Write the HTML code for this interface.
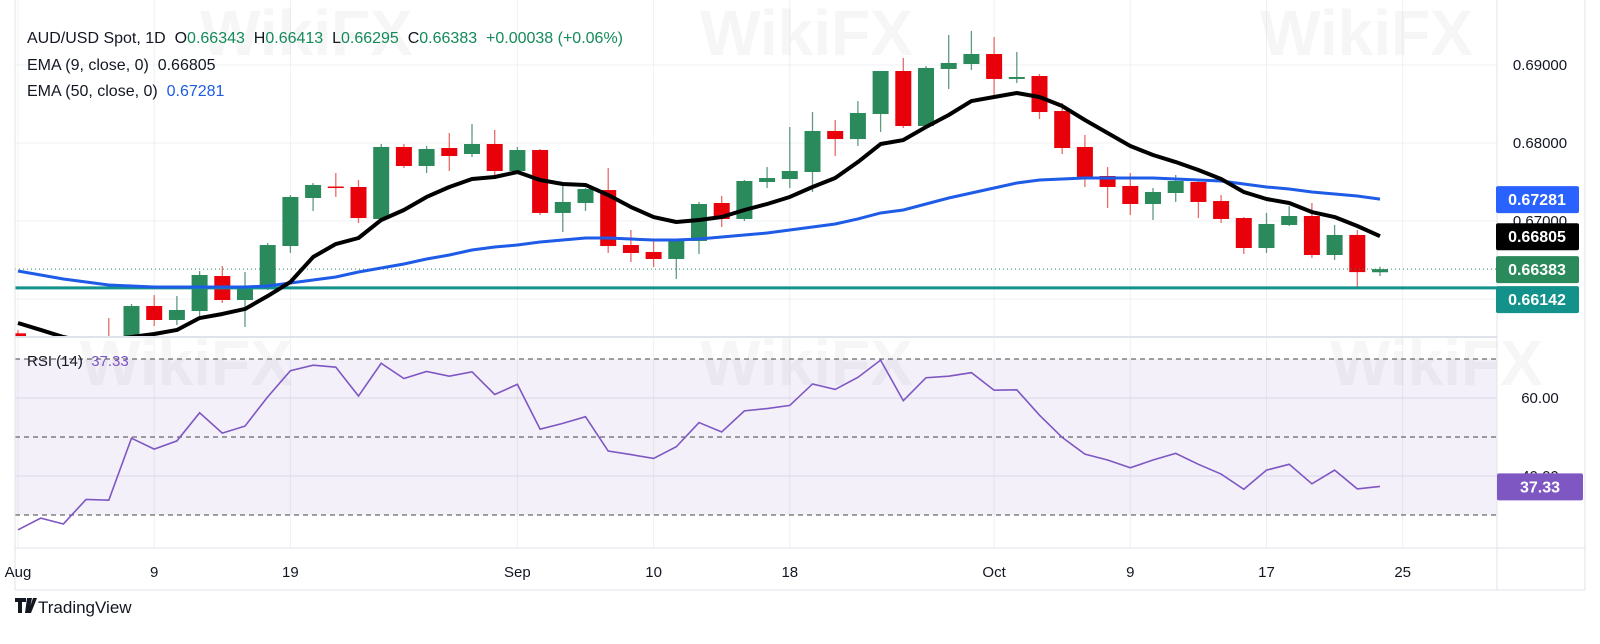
<!DOCTYPE html>
<html><head><meta charset="utf-8">
<style>
html,body{margin:0;padding:0;background:#fff;}
svg{display:block;font-family:"Liberation Sans",sans-serif;}
#legend text{white-space:pre;}
</style></head>
<body>
<svg id="chart" width="1600" height="644" viewBox="0 0 1600 644" xmlns="http://www.w3.org/2000/svg">
  <defs>
    <clipPath id="pclip"><rect x="15" y="0" width="1482" height="337"/></clipPath>
    <clipPath id="rclip"><rect x="15" y="337" width="1482" height="211"/></clipPath>
  </defs>
  <rect x="0" y="0" width="1600" height="644" fill="#fff"/>
  <g id="grid"></g>
  <g id="watermarks" fill="#d8d8d8" opacity="0.22" font-size="64" font-weight="bold">
    <text x="200" y="55">WikiFX</text>
    <text x="700" y="55">WikiFX</text>
    <text x="1260" y="55">WikiFX</text>
    <text x="80" y="385">WikiFX</text>
    <text x="700" y="385">WikiFX</text>
    <text x="1330" y="385">WikiFX</text>
  </g>
  <rect x="15" y="359" width="1482" height="156" fill="#7e57c2" opacity="0.09"/>
  <g id="price" clip-path="url(#pclip)"></g>
  <g id="rsi" clip-path="url(#rclip)"></g>
  <g id="axes"></g>
  <g id="legend" font-size="16" xml:space="preserve">
    <text x="27" y="43"><tspan fill="#131722">AUD/USD Spot, 1D  O</tspan><tspan fill="#138a5a">0.66343</tspan><tspan fill="#131722">  H</tspan><tspan fill="#138a5a">0.66413</tspan><tspan fill="#131722">  L</tspan><tspan fill="#138a5a">0.66295</tspan><tspan fill="#131722">  C</tspan><tspan fill="#138a5a">0.66383  +0.00038 (+0.06%)</tspan></text>
    <text x="27" y="70" fill="#131722">EMA (9, close, 0)  0.66805</text>
    <text x="27" y="96" fill="#131722">EMA (50, close, 0)  <tspan fill="#1e5be6">0.67281</tspan></text>
    <text x="27" y="366" fill="#131722" font-size="15">RSI (14)  <tspan fill="#7e57c2">37.33</tspan></text>
  </g>
  <g>
    <path d="M15 598h11v4h-4v11h-4v-11h-3z M27 598h5l-3 15h-4z M33 598h4l-6 15h-3z" fill="#131722"/>
    <text x="38" y="613" font-size="17" fill="#131722">TradingView</text>
  </g>
</svg>
<script>
const tickLabels=[["Aug",0],["9",6],["19",12],["Sep",22],["10",28],["18",34],["Oct",43],["9",49],["17",55],["25",61]];
const opens=[0.6556,0.6535,0.6490,0.6500,0.6540,0.6520,0.65910,0.65731,0.65846,0.66295,0.65987,0.66128,0.66679,0.67295,0.67442,0.67436,0.67026,0.67949,0.67705,0.67936,0.67859,0.67987,0.67641,0.67910,0.67103,0.67231,0.67397,0.66692,0.66603,0.66513,0.66744,0.67231,0.67026,0.67500,0.67538,0.67628,0.68154,0.68051,0.68372,0.68923,0.68218,0.68949,0.69013,0.69141,0.68821,0.68859,0.68410,0.67949,0.67577,0.67449,0.67218,0.67359,0.67500,0.67256,0.67038,0.66654,0.66949,0.67064,0.66564,0.66821,0.66343];
const highs=[0.6560,0.6540,0.6510,0.6530,0.65756,0.65936,0.66051,0.66038,0.66359,0.66423,0.66346,0.66718,0.67333,0.67487,0.67615,0.67526,0.67987,0.67987,0.67962,0.68128,0.68244,0.68167,0.67949,0.67923,0.67500,0.67423,0.67679,0.66885,0.66756,0.66756,0.67244,0.67321,0.67526,0.67692,0.68205,0.68397,0.68295,0.68538,0.68923,0.69090,0.68987,0.69385,0.69436,0.69359,0.69167,0.68885,0.68513,0.68103,0.67692,0.67615,0.67423,0.67590,0.67513,0.67333,0.67051,0.67103,0.67192,0.67231,0.66949,0.66885,0.66413];
const lows=[0.6520,0.6480,0.6430,0.6480,0.6505,0.6510,0.65654,0.65667,0.65782,0.65949,0.65641,0.66115,0.66590,0.67128,0.67308,0.66974,0.67013,0.67679,0.67615,0.67641,0.67821,0.67538,0.67628,0.67077,0.66859,0.67128,0.66590,0.66474,0.66410,0.66256,0.66577,0.66923,0.67000,0.67423,0.67423,0.67372,0.67833,0.67962,0.68141,0.68192,0.68192,0.68692,0.68936,0.68577,0.68769,0.68308,0.67859,0.67436,0.67167,0.67077,0.67013,0.67244,0.67038,0.66974,0.66577,0.66590,0.66936,0.66526,0.66500,0.66141,0.66295];
const closes=[0.6530,0.6490,0.6500,0.6520,0.6515,0.65910,0.65731,0.65859,0.66308,0.65987,0.66128,0.66692,0.67308,0.67462,0.67429,0.67038,0.67949,0.67705,0.67923,0.67833,0.67987,0.67641,0.67910,0.67103,0.67244,0.67410,0.66679,0.66590,0.66513,0.66744,0.67218,0.67026,0.67513,0.67551,0.67641,0.68154,0.68051,0.68385,0.68923,0.68218,0.68962,0.69026,0.69141,0.68821,0.68846,0.68397,0.67936,0.67564,0.67436,0.67218,0.67372,0.67513,0.67244,0.67026,0.66654,0.66962,0.67064,0.66564,0.66821,0.66345,0.66383];
const ema9=[0.65692,0.65603,0.65513,0.65449,0.65474,0.65513,0.65551,0.65603,0.65756,0.65808,0.65872,0.66038,0.66218,0.66538,0.66705,0.66782,0.67013,0.67141,0.67308,0.67436,0.67538,0.67564,0.67628,0.67526,0.67474,0.67462,0.67333,0.67179,0.67051,0.66987,0.67013,0.67051,0.67141,0.67218,0.67308,0.67436,0.67551,0.67756,0.67987,0.68038,0.68205,0.68359,0.68538,0.68590,0.68641,0.68590,0.68474,0.68295,0.68128,0.67962,0.67846,0.67756,0.67654,0.67538,0.67372,0.67282,0.67231,0.67115,0.67051,0.66936,0.66805];
const ema50=[0.66359,0.66308,0.66256,0.66218,0.66179,0.66167,0.66154,0.66154,0.66154,0.66154,0.66154,0.66167,0.66205,0.66244,0.66282,0.66346,0.66397,0.66449,0.66513,0.66564,0.66628,0.66667,0.66692,0.66731,0.66756,0.66782,0.66782,0.66769,0.66756,0.66756,0.66769,0.66795,0.66821,0.66846,0.66885,0.66923,0.66962,0.67026,0.67103,0.67141,0.67218,0.67295,0.67359,0.67423,0.67487,0.67526,0.67538,0.67551,0.67551,0.67551,0.67551,0.67538,0.67526,0.67513,0.67474,0.67436,0.67410,0.67372,0.67346,0.67321,0.67281];
const rsiVals=[26.2,29.2,27.7,34.0,33.8,49.7,46.9,49.0,56.2,51.0,52.8,60.3,67.0,68.4,67.9,60.5,68.9,65.0,66.8,65.6,66.7,60.9,63.5,52.0,53.5,55.2,46.4,45.5,44.5,47.5,53.7,51.3,56.7,57.3,58.1,63.6,62.2,65.3,69.7,59.3,65.2,65.6,66.5,62.0,62.1,55.6,49.9,45.6,44.1,42.1,44.1,45.8,43.0,40.5,36.6,41.5,43.0,38.0,41.5,36.7,37.33];
const priceTicks=[0.69,0.68,0.67,0.66];
const priceTickLabels=["0.69000","0.68000","0.67000",""];
const rsiTicks=[60,40];
const rsiTickLabels=["60.00","40.00"];
const rsiLevels=[70,50,30];
const supportLevel=0.66142;

const NS="http://www.w3.org/2000/svg";
const xOf=i=>18+i*22.7;
const yP=p=>221-(p-0.67)*7800;
const yR=r=>359+(70-r)*3.9;
function mk(tag,attrs,parent){const e=document.createElementNS(NS,tag);for(const k in attrs)e.setAttribute(k,attrs[k]);parent.appendChild(e);return e;}
const grid=document.getElementById('grid'),price=document.getElementById('price'),rsi=document.getElementById('rsi'),axes=document.getElementById('axes');

tickLabels.forEach(t=>{const l=mk('line',{x1:xOf(t[1]),x2:xOf(t[1]),y1:0,y2:548,stroke:'#eef0f3','stroke-width':1},grid);

});
priceTicks.forEach(p=>{const l=mk('line',{x1:15,x2:1497,y1:yP(p),y2:yP(p),stroke:'#eef0f3'},grid);

});
rsiTicks.forEach(r=>{const l=mk('line',{x1:15,x2:1497,y1:yR(r),y2:yR(r),stroke:'#e6e3ee'},grid);

});

for(let i=0;i<opens.length;i++){
  const up=closes[i]>=opens[i];const col=up?'#2b8a5b':'#e8000b';const x=xOf(i);
  const g=mk('g',{},price);
  
  
  mk('line',{x1:x,x2:x,y1:yP(highs[i]),y2:yP(lows[i]),stroke:up?'#5f9b7d':'#e86a6a','stroke-width':1.3},g);
  const top=yP(Math.max(opens[i],closes[i])),bot=yP(Math.min(opens[i],closes[i]));
  mk('rect',{x:x-8,y:top,width:16,height:Math.max(bot-top,1.5),fill:col},g);
}
const sl=mk('line',{x1:15,x2:1497,y1:yP(supportLevel),y2:yP(supportLevel),stroke:'#12928a','stroke-width':3},price);


const lp=mk('line',{x1:15,x2:1497,y1:yP(closes[closes.length-1]),y2:yP(closes[closes.length-1]),stroke:'#2b8a5b','stroke-width':1,'stroke-dasharray':'1 3'},price);


const e50=mk('polyline',{points:ema50.map((v,i)=>xOf(i)+','+yP(v)).join(' '),fill:'none',stroke:'#1e5be6','stroke-width':3},price);


const e9=mk('polyline',{points:ema9.map((v,i)=>xOf(i)+','+yP(v)).join(' '),fill:'none',stroke:'#000','stroke-width':4,'stroke-linejoin':'round'},price);



rsiLevels.forEach(r=>{const l=mk('line',{x1:15,x2:1497,y1:yR(r),y2:yR(r),stroke:'#444','stroke-dasharray':'5 4','stroke-width':1},rsi);

});
const rl=mk('polyline',{points:rsiVals.map((v,i)=>xOf(i)+','+yR(v)).join(' '),fill:'none',stroke:'#7e57c2','stroke-width':1.6},rsi);



[[15,337,1497,337],[15,548,1585,548],[15,590,1585,590],[15,0,15,590],[1497,0,1497,590],[1585,0,1585,590]].forEach(a=>{
 const l=mk('line',{x1:a[0],y1:a[1],x2:a[2],y2:a[3],stroke:'#e0e3eb','stroke-width':a[1]===337?2:1},axes);
 
 });
priceTicks.forEach((p,k)=>{if(!priceTickLabels[k])return;const t=mk('text',{x:1540,y:yP(p)+5,'text-anchor':'middle','font-size':15,fill:'#131722'},axes);t.textContent=priceTickLabels[k];

});
rsiTicks.forEach((r,k)=>{const t=mk('text',{x:1540,y:yR(r)+5,'text-anchor':'middle','font-size':15,fill:'#131722'},axes);t.textContent=rsiTickLabels[k];

});
tickLabels.forEach(t=>{const e=mk('text',{x:xOf(t[1]),y:577,'text-anchor':'middle','font-size':15,fill:'#131722'},axes);e.textContent=t[0];

});
const boxes=[[ema50[ema50.length-1],'#2962ff','ema50-value-box'],[ema9[ema9.length-1],'#000','ema9-value-box'],[closes[closes.length-1],'#2b8a5b','last-price-box'],[supportLevel,'#12928a','support-value-box']];
let prevBottom=-1;
boxes.forEach(b=>{let cy=yP(b[0]);let top=cy-13;if(top<prevBottom+3)top=prevBottom+3;prevBottom=top+27;
 const g=mk('g',{},axes);
 
 
 mk('rect',{x:1496,y:top,width:83,height:27,rx:2,fill:b[1]},g);
 const t=mk('text',{x:1537,y:top+19,'text-anchor':'middle','font-size':16,'font-weight':'bold',fill:'#fff'},g);t.textContent=b[0].toFixed(5);});
const rb=mk('g',{},axes);


mk('rect',{x:1497,y:yR(rsiVals[rsiVals.length-1])-13,width:86,height:27,rx:2,fill:'#7e57c2'},rb);
const rt=mk('text',{x:1540,y:yR(rsiVals[rsiVals.length-1])+6,'text-anchor':'middle','font-size':16,'font-weight':'bold',fill:'#fff'},rb);rt.textContent=rsiVals[rsiVals.length-1].toFixed(2);
</script>
</body></html>
